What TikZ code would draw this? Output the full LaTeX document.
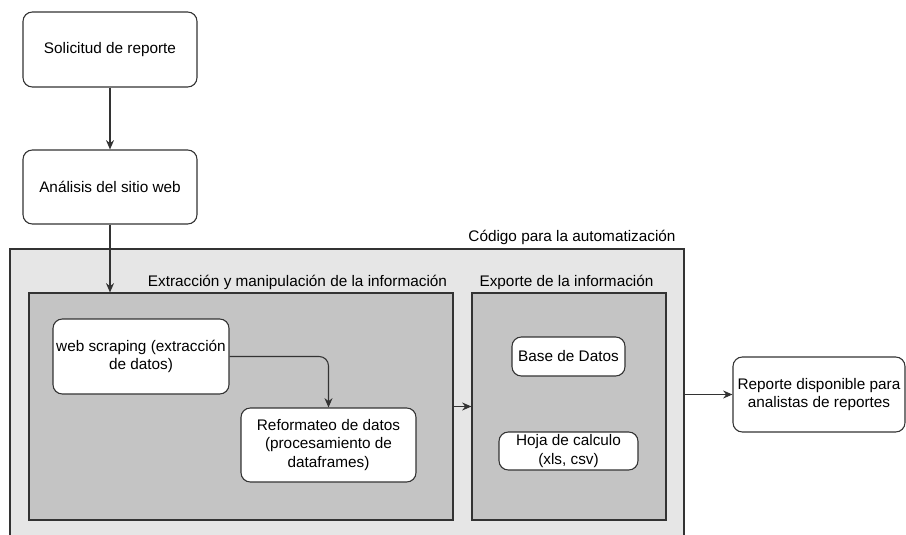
\documentclass[tikz,border=0pt]{standalone}
\usepackage{fontspec}
\setmainfont{Liberation Sans}
\usetikzlibrary{arrows.meta}

\definecolor{boxline}{HTML}{333333}
\definecolor{outerfill}{HTML}{E6E6E6}
\definecolor{innerfill}{HTML}{C4C4C4}

\begin{document}
\begin{tikzpicture}[x=0.75pt, y=-0.75pt, line width=0.8pt, font=\fontsize{11.5}{14}\selectfont]
	\tikzstyle{step box} = [rectangle, rounded corners=7pt, draw=boxline, fill=white, align=center, inner sep=1pt]
	\tikzstyle{group box} = [rectangle, draw=boxline, inner sep=0pt]
	\tikzstyle{flow} = [-{Stealth[length=7pt, width=6pt]}, boxline]

	\useasboundingbox (0, 0) rectangle (906, 535);

	% contenedores
	\node[group box, fill=outerfill, minimum width=505.5pt, minimum height=218.25pt] (cod) at (347, 394.5) {};
	\node[group box, fill=innerfill, minimum width=318pt, minimum height=170.25pt] (ext) at (241, 406.5) {};
	\node[group box, fill=innerfill, minimum width=145.5pt, minimum height=170.25pt] (exp) at (569, 406.5) {};

	\node (cod-lbl) at (572, 237) {Código para la automatización};
	\node (ext-lbl) at (297.5, 282) {Extracción y manipulación de la información};
	\node (exp-lbl) at (566.5, 282) {Exporte de la información};

	% pasos
	\node[step box, minimum width=130.5pt, minimum height=56.25pt] (sol) at (110, 49.5) {Solicitud de reporte};
	\node[step box, minimum width=130.5pt, minimum height=55.5pt] (ana) at (110, 187) {Análisis del sitio web};
	\node[step box, minimum width=132pt, minimum height=56.25pt] (web) at (141, 356.5) {web scraping (extracción\\de datos)};
	\node[step box, minimum width=131.25pt, minimum height=55.5pt] (ref) at (328.5, 445) {Reformateo de datos\\(procesamiento de\\dataframes)};
	\node[step box, minimum width=84.75pt, minimum height=29.25pt] (bd) at (568.5, 356.5) {Base de Datos};
	\node[step box, minimum width=104.25pt, minimum height=28.5pt] (hoja) at (568.5, 451) {Hoja de calculo\\(xls, csv)};
	\node[step box, minimum width=129pt, minimum height=56.25pt] (rep) at (819, 394.5) {Reporte disponible para\\analistas de reportes};

	% conectores
	\draw[flow] (sol) -- (ana);
	\draw[flow] (ana.south) -- (ana.south |- ext.north);
	\draw[flow, rounded corners=7pt] (web.east) -| (ref.north);
	\draw[flow] (ext.east) -- (exp.west);
	\draw[flow] (cod.east) -- (rep.west);
\end{tikzpicture}
\end{document}
